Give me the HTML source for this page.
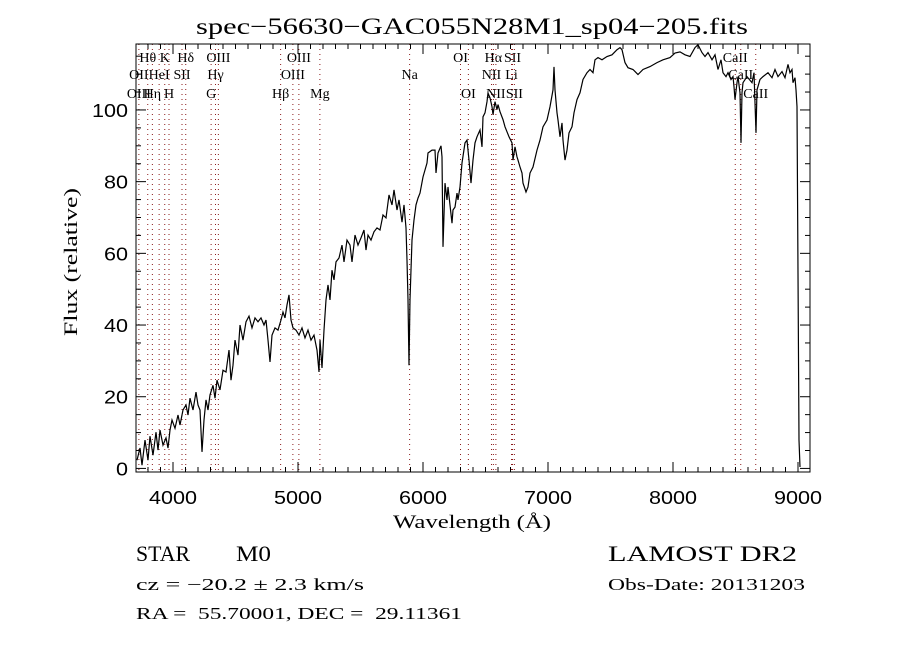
<!DOCTYPE html>
<html><head><meta charset="utf-8"><style>
html,body{margin:0;padding:0;background:#fff;}
svg{display:block;}
.sr{font-family:"Liberation Serif",serif;fill:#000;}
.ss{font-family:"Liberation Sans",sans-serif;fill:#000;}
</style></head><body>
<svg id="chart" width="900" height="650" xmlns="http://www.w3.org/2000/svg">
<rect width="900" height="650" fill="#fff"/>
<text class="sr" x="472" y="34" font-size="23" text-anchor="middle" textLength="552" lengthAdjust="spacingAndGlyphs">spec−56630−GAC055N28M1_sp04−205.fits</text>
<g id="lines"></g>
<g id="ticks"></g>
<path id="spec" fill="none" stroke="#000" stroke-width="1.2"/>
<rect x="136" y="44" width="674" height="428" fill="none" stroke="#000" stroke-width="1"/>
<text class="sr" x="393" y="528" font-size="19" textLength="158" lengthAdjust="spacingAndGlyphs">Wavelength (Å)</text>
<text class="sr" x="0" y="0" font-size="19" text-anchor="middle" textLength="148" lengthAdjust="spacingAndGlyphs" transform="translate(77,262) rotate(-90)">Flux (relative)</text>
<text class="sr" x="136" y="561" font-size="22" textLength="54" lengthAdjust="spacingAndGlyphs">STAR</text>
<text class="sr" x="236" y="561" font-size="22" textLength="35" lengthAdjust="spacingAndGlyphs">M0</text>
<text class="sr" x="136" y="590" font-size="17" textLength="228" lengthAdjust="spacingAndGlyphs">cz = −20.2 ± 2.3 km/s</text>
<text class="sr" x="136" y="619" font-size="17" textLength="326" lengthAdjust="spacingAndGlyphs" xml:space="preserve">RA =  55.70001, DEC =  29.11361</text>
<text class="sr" x="608" y="561" font-size="22" textLength="189" lengthAdjust="spacingAndGlyphs">LAMOST DR2</text>
<text class="sr" x="608" y="590" font-size="17" textLength="197" lengthAdjust="spacingAndGlyphs">Obs-Date: 20131203</text>
</svg>
<script>
const wave=[3712,3736,3752,3776,3800,3816,3840,3864,3880,3896,3920,3944,3960,3976,3992,4016,4040,4056,4080,4104,4120,4136,4160,4184,4200,4216,4232,4248,4264,4280,4296,4320,4336,4352,4376,4400,4424,4448,4464,4480,4496,4520,4536,4560,4584,4608,4632,4656,4680,4704,4728,4744,4760,4776,4792,4816,4840,4864,4880,4896,4912,4928,4944,4960,4984,5008,5032,5056,5080,5104,5128,5152,5168,5176,5192,5208,5224,5240,5256,5272,5288,5304,5328,5352,5368,5392,5416,5432,5456,5480,5504,5528,5544,5560,5584,5608,5632,5656,5680,5704,5728,5752,5768,5792,5808,5832,5848,5864,5872,5880,5888,5896,5912,5928,5944,5960,5976,6000,6032,6040,6072,6096,6104,6120,6144,6152,6160,6176,6192,6200,6232,6240,6256,6272,6280,6296,6312,6336,6352,6368,6384,6400,6416,6432,6456,6472,6480,6496,6512,6520,6536,6552,6560,6576,6592,6600,6616,6640,6656,6672,6688,6712,6720,6736,6752,6760,6776,6792,6800,6824,6840,6856,6880,6912,6936,6960,6992,7016,7040,7048,7056,7072,7080,7096,7112,7120,7136,7152,7168,7192,7208,7232,7256,7280,7312,7336,7360,7376,7400,7432,7472,7512,7552,7576,7592,7616,7640,7680,7720,7760,7816,7872,7920,7976,8016,8056,8096,8136,8176,8200,8232,8256,8280,8312,8336,8360,8384,8400,8424,8440,8464,8480,8488,8496,8512,8520,8536,8544,8552,8560,8592,8632,8648,8664,8672,8696,8720,8760,8792,8816,8840,8872,8896,8920,8936,8952,8960,8976,8984,8992,9000,9008,9016];
const flux=[2.3,5.7,0.9,7.9,2.3,9.0,3.7,10.1,5.1,10.7,6.5,8.5,5.7,10.7,13.5,11.2,14.9,12.1,16.3,17.7,14.9,19.6,16.3,21.3,17.7,16.3,4.6,13.5,19.1,16.3,20.5,23.2,19.6,24.6,21.9,27.4,26.9,33.0,24.6,28.8,35.8,31.6,40.0,35.8,40.9,42.5,39.2,42.0,40.9,42.0,40.0,41.4,35.8,29.7,37.2,39.2,38.6,41.4,43.6,42.0,45.6,48.4,41.4,39.2,38.6,37.2,39.2,36.4,38.6,35.8,37.2,33.0,26.9,35.8,28.0,38.6,47.0,51.2,47.0,55.3,52.6,57.6,58.7,62.3,57.6,63.7,62.3,57.6,65.1,62.3,64.3,66.5,60.9,65.1,63.7,66.0,67.1,66.5,70.7,69.9,76.3,73.5,77.7,72.1,74.9,68.7,73.5,67.1,58.1,47.0,28.8,47.0,63.7,69.3,73.5,75.4,76.8,81.3,85.2,88.0,88.8,88.8,82.4,88.0,90.0,86.9,61.8,79.6,74.9,78.5,68.4,72.1,72.9,76.8,74.9,78.5,85.2,90.8,91.6,86.0,79.6,86.0,90.8,92.5,94.4,89.7,98.1,99.2,102.3,104.7,103.4,100.9,98.7,102.3,100.1,101.5,99.5,97.3,95.3,93.9,92.5,90.8,86.0,89.7,86.9,86.0,84.1,82.4,79.6,77.1,78.5,82.4,84.1,88.8,91.6,95.3,97.2,100.9,105.6,112.0,105.6,99.2,97.2,92.5,96.4,91.6,86.0,88.8,93.6,95.3,99.2,102.9,104.8,108.5,110.4,111.3,110.4,114.0,114.6,114.0,114.9,115.4,116.8,117.4,116.8,113.2,111.8,111.3,109.9,111.3,112.1,113.2,114.0,114.6,115.9,116.2,115.4,114.9,117.4,118.2,116.0,114.9,116.0,114.0,115.4,111.3,114.0,110.4,109.3,110.4,108.5,109.3,106.5,102.9,107.6,109.3,104.8,90.8,104.8,107.6,109.3,107.6,110.4,93.6,105.6,108.5,109.3,110.4,109.0,111.3,109.3,110.7,109.0,112.7,110.4,111.3,107.6,109.0,105.6,100.9,54.5,7.9,0.4];
const xTicks=[4000,5000,6000,7000,8000,9000];
const yTicks=[0,20,40,60,80,100];
const lineWaves=[3798,3934,4102,4363,5007,6300,6563,6716,8498,3727,3889,4072,4340,4959,5893,6548,6708,8542,3727,3835,3968,4305,4861,5175,6363,6583,6731,8662];
const lineLabels=["Hθ","K","Hδ","OIII","OIII","OI","Hα","SII","CaII","OII","HeI","SII","Hγ","OIII","Na","NII","Li","CaII","OIII","Hη","H","G","Hβ","Mg","OI","NII","SII","CaII"];
const lineRows=[0,0,0,0,0,0,0,0,0,1,1,1,1,1,1,1,1,1,2,2,2,2,2,2,2,2,2,2];

const X0=136,X1=810,Y0=472,Y1=44,WMIN=3704,WMAX=9096,FMIN=-1.0,FMAX=118.4;
const NS="http://www.w3.org/2000/svg";
function xs(w){return X0+(w-WMIN)/(WMAX-WMIN)*(X1-X0);}
function ys(f){return Y0-(f-FMIN)/(FMAX-FMIN)*(Y0-Y1);}
function mk(tag,attrs,parent){const e=document.createElementNS(NS,tag);for(const k in attrs)e.setAttribute(k,attrs[k]);parent.appendChild(e);return e;}

let d="";
for(let i=0;i<wave.length;i++){d+=(i?"L":"M")+xs(wave[i]).toFixed(1)+","+ys(flux[i]).toFixed(1);}
document.getElementById('spec').setAttribute('d',d);

const lg=document.getElementById('lines');
const drawn={};
const rowY=[62,79,98];
for(let i=0;i<lineWaves.length;i++){
  const x=xs(lineWaves[i]);
  if(!drawn[lineWaves[i]]){
    drawn[lineWaves[i]]=1;
    const l=mk('line',{x1:x,x2:x,y1:Y1,y2:Y0,stroke:'#8b1a1a','stroke-width':1,'stroke-dasharray':'1,4'},lg);
    
    
  }
  const t=mk('text',{x:x,y:rowY[lineRows[i]],'font-size':14,'text-anchor':'middle',class:'sr'},lg);
  t.textContent=lineLabels[i];
  
  
}

const tg=document.getElementById('ticks');
for(let w=3800;w<=9000;w+=100){
  const x=xs(w),major=(w%1000===0),L=major?10:5;
  mk('line',{x1:x,x2:x,y1:Y0,y2:Y0-L,stroke:'#000','stroke-width':1},tg);
  mk('line',{x1:x,x2:x,y1:Y1,y2:Y1+L,stroke:'#000','stroke-width':1},tg);
}
for(const w of xTicks){
  const t=mk('text',{x:xs(w),y:504,'font-size':18,'text-anchor':'middle',class:'ss',textLength:48,lengthAdjust:'spacingAndGlyphs'},tg);
  t.textContent=w;
  
  
}
for(let f=0;f<=115;f+=5){
  const y=ys(f),major=(f%20===0),L=major?10:5;
  mk('line',{x1:X0,x2:X0+L,y1:y,y2:y,stroke:'#000','stroke-width':1},tg);
  mk('line',{x1:X1,x2:X1-L,y1:y,y2:y,stroke:'#000','stroke-width':1},tg);
}
for(const f of yTicks){
  const t=mk('text',{x:128,y:ys(f)+7,'font-size':18,'text-anchor':'end',class:'ss',textLength:String(f).length*12,lengthAdjust:'spacingAndGlyphs'},tg);
  t.textContent=f;
  
  
}
</script>
</body></html>
